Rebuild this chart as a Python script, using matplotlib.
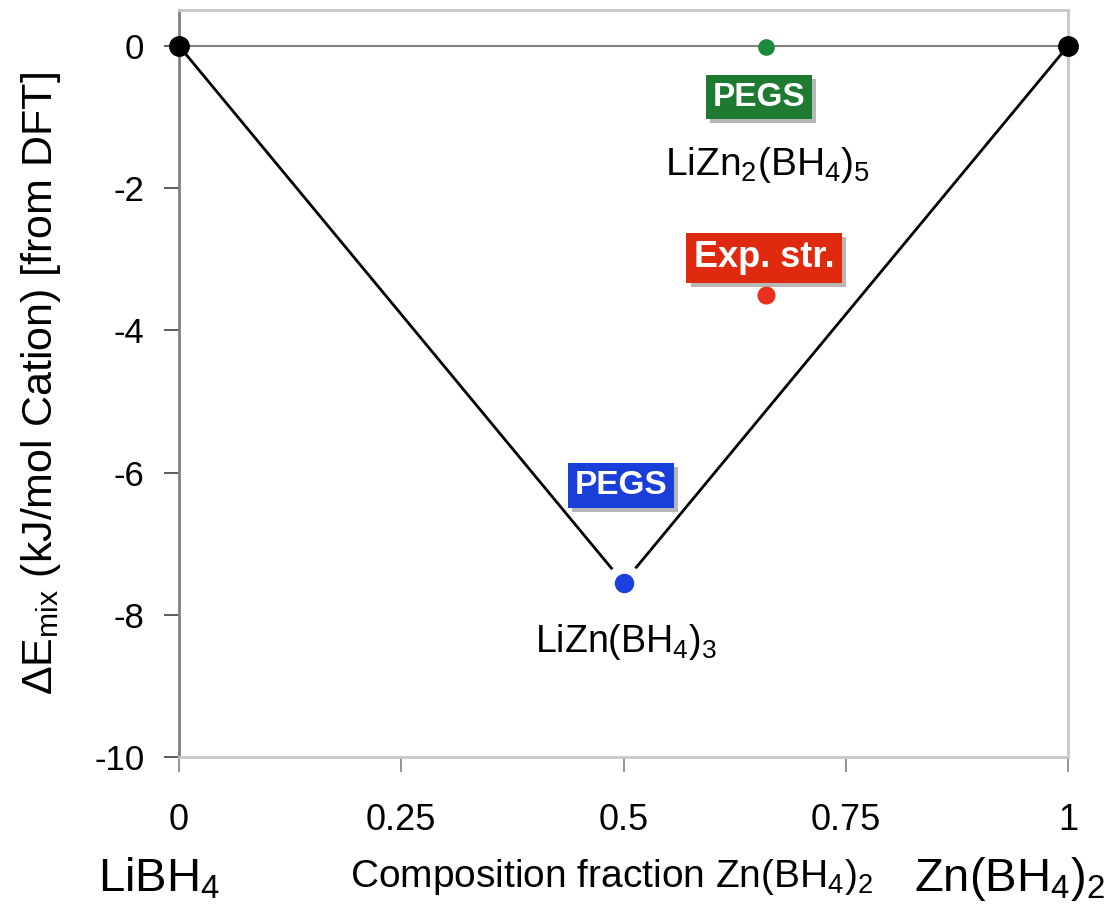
import matplotlib
matplotlib.use("Agg")
import matplotlib.pyplot as plt
import matplotlib.patheffects as pe

plt.rcParams['font.family'] = ['Liberation Sans', 'DejaVu Sans']
plt.rcParams['mathtext.fontset'] = 'custom'
plt.rcParams['mathtext.rm'] = 'Liberation Sans'
plt.rcParams['axes.unicode_minus'] = False

# convex hull (ground states)
hull_x = [0, 0.5, 1]
hull_y = [0, -7.55, 0]
# end members
end_x = [0, 1]
end_y = [0, 0]
# LiZn2(BH4)5 structures
pegs2_x, pegs2_y = 0.66, -0.02
exp_x, exp_y = 0.66, -3.5
xticks = [0, 0.25, 0.5, 0.75, 1]
xticklabels = ['0', '0.25', '0.5', '0.75', '1']
yticks = [0, -2, -4, -6, -8, -10]

fig = plt.figure(figsize=(11.16, 9.07), dpi=100)
ax = fig.add_axes([0.1604, 0.1654, 0.7966, 0.8236])

ax.axhline(0, color='#808080', lw=1.5, zorder=1)
ax.plot(hull_x, hull_y, color='black', lw=2, zorder=2)
ax.plot(hull_x[1], hull_y[1], 'o', ms=26, color='white', zorder=3)  # white gap round the point
ax.plot(hull_x[1], hull_y[1], 'o', ms=13, color='#1d3fe0', zorder=4)
ax.plot(end_x, end_y, 'o', ms=14, color='black', zorder=4, clip_on=False)
ax.plot(pegs2_x, pegs2_y, 'o', ms=11, color='#1c8a3c', zorder=4)
ax.plot(exp_x, exp_y, 'o', ms=12, color='#e8301c', zorder=4)

shadow = [pe.withSimplePatchShadow(offset=(3, -3), shadow_rgbFace='#888888', alpha=0.6)]

def boxlabel(x, y, s, c, fs):
    t = ax.text(x, y, s, ha='center', va='center', fontsize=fs, fontweight='bold',
                color='white', zorder=5,
                bbox=dict(boxstyle='square,pad=0.2', fc=c, ec='none'))
    t.get_bbox_patch().set_path_effects(shadow)

boxlabel(0.652, -0.72, 'PEGS', '#1e7a31', 24)
boxlabel(0.658, -2.98, 'Exp. str.', '#e02a10', 26)
boxlabel(0.497, -6.18, 'PEGS', '#1a3fd8', 24)

ax.text(0.662, -1.68, r'LiZn$_2$(BH$_4$)$_5$', ha='center', va='center', fontsize=28)
ax.text(0.503, -8.38, r'LiZn(BH$_4$)$_3$', ha='center', va='center', fontsize=27)

ax.set_xlim(0, 1)
ax.set_ylim(-10, 0.506)
ax.set_xticks(xticks)
ax.set_xticklabels(xticklabels)
ax.set_yticks(yticks)
ax.tick_params(axis='x', direction='out', length=11, width=1.2, color='#808080',
               pad=22, labelsize=26)
ax.tick_params(axis='y', direction='out', length=11, width=1.2, color='#404040',
               pad=14, labelsize=25)
ax.spines['left'].set_color('#808080')
ax.spines['left'].set_linewidth(2)
for s in ['top', 'right', 'bottom']:
    ax.spines[s].set_color('#c8c8c8')
    ax.spines[s].set_linewidth(2)

ax.set_ylabel(r'$\Delta$E$_{\rm mix}$ (kJ/mol Cation) [from DFT]', fontsize=31, labelpad=22)

fig.text(0.143, 0.031, r'LiBH$_4$', ha='center', va='center', fontsize=34)
fig.text(0.548, 0.033, r'Composition fraction Zn(BH$_4$)$_2$', ha='center', va='center', fontsize=28)
fig.text(0.905, 0.031, r'Zn(BH$_4$)$_2$', ha='center', va='center', fontsize=34)

fig.savefig('out.png', dpi=100)
